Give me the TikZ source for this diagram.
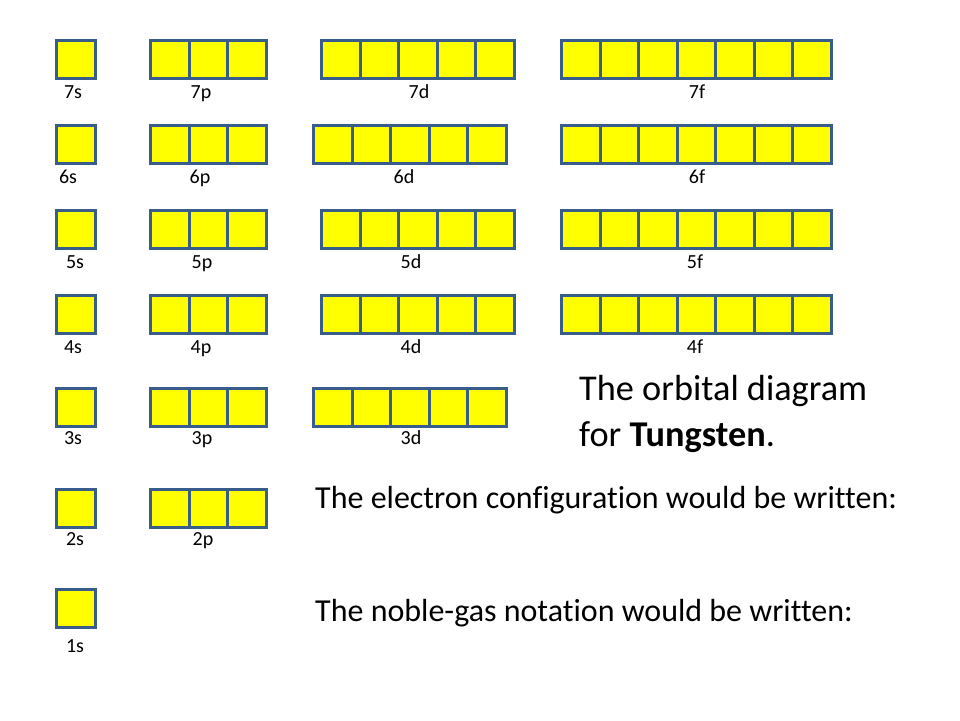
\documentclass[tikz,border=0pt]{standalone}
\usepackage{fontspec}
\setmainfont[Ligatures={NoCommon}]{Carlito}
\definecolor{orbline}{HTML}{385D8A}
\definecolor{orbfill}{HTML}{FFFF00}
\tikzset{
  cell/.style={draw=orbline, fill=orbfill, line width=3pt, minimum width=38.5pt, minimum height=38pt, inner sep=0pt, outer sep=0pt},
  lbl/.style={inner sep=0pt, anchor=base, font=\fontsize{20}{24}\selectfont},
  bigtxt/.style={inner sep=0pt, anchor=base west, font=\fontsize{32}{38}\selectfont},
  titletxt/.style={inner sep=0pt, anchor=base west, font=\fontsize{36.3}{43}\selectfont}
}
% #1 name, #2 outer left x, #3 outer top y, #4 number of cells, #5 label, #6 label x, #7 label centre y
\newcommand\orbrow[7]{%
  \foreach \i in {1,...,#4}{%
    \node[cell] (#1-\i) at ({#2+1.5+(\i-0.5)*38.5},{#3+20.5}) {};
  }%
  \node[lbl] (#1-lbl) at (#6,#7+6) {#5};
}
\begin{document}
\begin{tikzpicture}[x=1pt,y=-1pt]
\useasboundingbox[fill=white] (0,0) rectangle (960,720);
% row 7
\orbrow{s7}{55}{39}{1}{7s}{73}{92}
\orbrow{p7}{149}{39}{3}{7p}{201}{92}
\orbrow{d7}{320}{39}{5}{7d}{419}{92}
\orbrow{f7}{560}{39}{7}{7f}{697}{92}
% row 6
\orbrow{s6}{55}{124}{1}{6s}{68}{177}
\orbrow{p6}{149}{124}{3}{6p}{200}{177}
\orbrow{d6}{312}{124}{5}{6d}{404}{177}
\orbrow{f6}{560}{124}{7}{6f}{697}{177}
% row 5
\orbrow{s5}{55}{209}{1}{5s}{75}{262}
\orbrow{p5}{149}{209}{3}{5p}{202}{262}
\orbrow{d5}{320}{209}{5}{5d}{411}{262}
\orbrow{f5}{560}{209}{7}{5f}{695}{262}
% row 4
\orbrow{s4}{55}{294}{1}{4s}{73}{347}
\orbrow{p4}{149}{294}{3}{4p}{201}{347}
\orbrow{d4}{320}{294}{5}{4d}{411}{347}
\orbrow{f4}{560}{294}{7}{4f}{695}{347}
% row 3
\orbrow{s3}{55}{387}{1}{3s}{73}{438}
\orbrow{p3}{149}{387}{3}{3p}{202}{438}
\orbrow{d3}{312}{387}{5}{3d}{411}{438}
% row 2
\orbrow{s2}{55}{488}{1}{2s}{75}{539}
\orbrow{p2}{149}{488}{3}{2p}{203}{539}
% row 1
\orbrow{s1}{55}{588}{1}{1s}{75}{646}
% texts
\node[titletxt] (title1) at (579,400) {The orbital diagram};
\node[titletxt] (title2) at (579,446) {for \textbf{Tungsten}.};
\node[bigtxt] (econf) at (315,508) {The electron configuration would be written:};
\node[bigtxt] (noble) at (315,621) {The noble-gas notation would be written:};
\end{tikzpicture}
\end{document}
